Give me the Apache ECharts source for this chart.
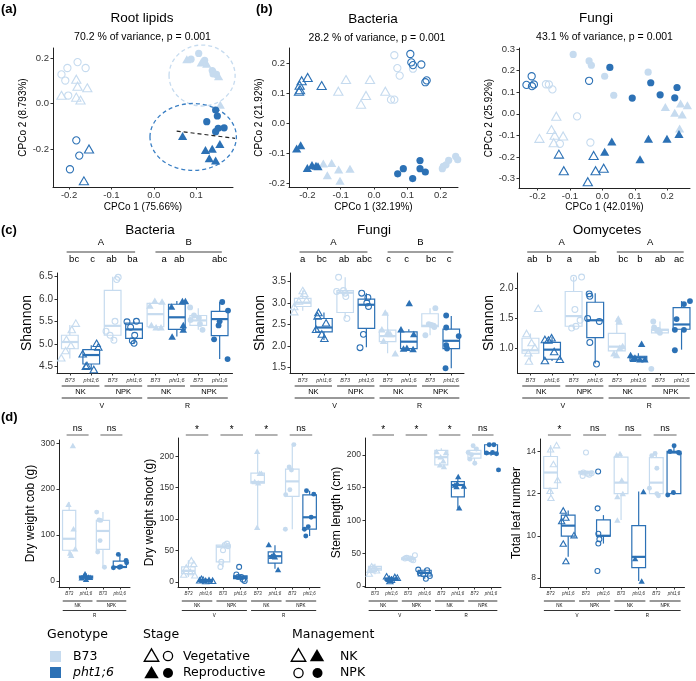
<!DOCTYPE html>
<html><head><meta charset="utf-8">
<script src="https://cdn.jsdelivr.net/npm/echarts/dist/echarts.min.js"></script>
<style>html,body{margin:0;padding:0;background:#fff}#c{width:696px;height:681px}</style>
</head><body><div id="c"></div>
<script>
// ================= DATA =================
// (a) Root lipids CPCoA
const lipidXTicks = [-0.2, -0.1, 0, 0.1];
const lipidYTicks = [-0.2, 0, 0.2];
const lipidB73VegNK  = [[-0.183,0.107],[-0.180,0.076],[-0.157,0.069],[-0.218,0.036],[-0.183,0.028],[-0.173,0.015]];
const lipidB73VegNPK = [[-0.180,0.182],[-0.204,0.156],[-0.161,0.156],[-0.218,0.128],[-0.209,0.101],[-0.202,0.035]];
const lipidPhtVegNK  = [[-0.153,-0.200],[-0.165,-0.340]];
const lipidPhtVegNPK = [[-0.183,-0.162],[-0.176,-0.229],[-0.198,-0.289]];
const lipidB73RepNK  = [[0.078,0.195],[0.112,0.18],[0.125,0.175],[0.145,0.135],[0.153,0.12],[0.157,-0.005]];
const lipidB73RepNPK = [[0.106,0.22],[0.088,0.195],[0.12,0.19],[0.138,0.145],[0.148,0.128],[0.140,0.13]];
const lipidPhtRepNK  = [[0.068,-0.143],[0.122,-0.204],[0.138,-0.199],[0.156,-0.178],[0.131,-0.241],[0.146,-0.250]];
const lipidPhtRepNPK = [[0.146,-0.029],[0.150,-0.055],[0.125,-0.080],[0.152,-0.109],[0.166,-0.107],[0.146,-0.124]];
// ellipses: [cx, cy, rx, ry, genotype]
const lipidEllipses = [[0.114,0.123,0.078,0.134,0],[0.093,-0.147,0.102,0.147,1]];
const lipidTrend = [[0.054,-0.121],[0.192,-0.153]];

// (b) Bacteria CPCoA
const bacXTicks = [-0.2,-0.1,0,0.1,0.2];
const bacYTicks = [-0.2,-0.1,0,0.1,0.2];
const bacB73VegNK  = [[-0.084,0.146],[-0.012,0.146],[-0.107,0.107],[-0.024,0.093],[-0.039,0.064],[0.034,0.107]];
const bacB73VegNPK = [[0.061,0.227],[0.070,0.184],[0.077,0.159],[0.117,0.182],[0.051,0.079],[0.061,0.079]];
const bacPhtVegNK  = [[-0.199,0.153],[-0.217,0.142],[-0.223,0.127],[-0.222,0.112],[-0.225,0.107],[-0.157,0.126]];
const bacPhtVegNPK = [[0.109,0.231],[0.112,0.203],[0.117,0.194],[0.142,0.196],[0.154,0.137],[0.158,0.143]];
const bacB73RepNK  = [[-0.152,-0.134],[-0.127,-0.132],[-0.140,-0.173],[-0.106,-0.154],[-0.102,-0.191],[-0.072,-0.151]];
const bacB73RepNPK = [[0.205,-0.151],[0.216,-0.138],[0.224,-0.123],[0.245,-0.110],[0.251,-0.121],[0.208,-0.143]];
const bacPhtRepNK  = [[-0.220,-0.073],[-0.232,-0.084],[-0.200,-0.149],[-0.186,-0.139],[-0.174,-0.141],[-0.168,-0.143]];
const bacPhtRepNPK = [[0.071,-0.168],[0.088,-0.151],[0.116,-0.184],[0.138,-0.124],[0.138,-0.151],[0.154,-0.162]];

// (b) Fungi CPCoA
const funXTicks = [-0.2,-0.1,0,0.1,0.2];
const funYTicks = [-0.3,-0.2,-0.1,0,0.1,0.2,0.3];
const funB73VegNK  = [[-0.142,-0.011],[-0.194,-0.114],[-0.157,-0.073],[-0.147,-0.099],[-0.121,-0.103],[-0.150,-0.134]];
const funB73VegNPK = [[-0.174,0.137],[-0.165,0.136],[-0.154,0.113],[-0.078,-0.012],[-0.131,-0.139],[-0.037,-0.133]];
const funPhtVegNK  = [[-0.134,-0.187],[-0.119,-0.264],[-0.027,-0.193],[-0.021,-0.264],[0.004,-0.252],[-0.045,-0.315]];
const funPhtVegNPK = [[-0.218,0.174],[-0.234,0.134],[-0.217,0.128],[-0.211,0.136],[-0.041,0.153]];
const funB73RepNK  = [[0.194,0.032],[0.223,0.005],[0.241,0.048],[0.246,-0.003],[0.262,0.040],[0.238,-0.068]];
const funB73RepNPK = [[-0.090,0.275],[-0.041,0.245],[-0.034,0.225],[0.007,0.174],[0.035,0.086],[0.141,0.193]];
const funPhtRepNK  = [[0.007,-0.176],[0.029,-0.128],[0.116,-0.211],[0.142,-0.116],[0.199,-0.116],[0.236,-0.094]];
const funPhtRepNPK = [[0.023,0.215],[0.149,0.144],[0.092,0.073],[0.178,0.088],[0.223,0.074],[0.230,0.122]];

// groups for box panels
const groupCats  = ["B73","pht1;6","B73","pht1;6","B73","pht1;6","B73","pht1;6"];
const groupGeno  = [0,1,0,1,0,1,0,1];
const groupMgmt  = ["NK","NK","NPK","NPK","NK","NK","NPK","NPK"];
const groupStage = ["V","V","V","V","R","R","R","R"];
const cobCats  = ["B73","pht1;6","B73","pht1;6"];
const cobGeno  = [0,1,0,1];
const cobMgmt  = ["NK","NK","NPK","NPK"];
const cobStage = ["R","R","R","R"];

// (c) Shannon — box stats [min, Q1, median, Q3, max]; points [jitter, value]
const shanBacTicks = [4.5,5,5.5,6,6.5];
const shanBacBox = [[4.67,4.89,5.04,5.19,5.42],[4.41,4.55,4.75,4.87,4.97],[5.06,5.19,5.40,6.19,6.49],[5.0,5.12,5.32,5.46,5.50],[5.34,5.38,5.66,5.90,5.95],[5.16,5.32,5.59,5.88,5.95],[5.31,5.41,5.52,5.63,5.79],[4.66,5.18,5.55,5.72,5.93]];
const shanBacPts = [
 [[0.28,5.46],[0.09,5.32],[-0.16,5.10],[0.05,4.97],[-0.4,4.69],[-0.2,4.85]],
 [[0.25,5.01],[0.33,4.93],[-0.4,4.78],[-0.25,4.50],[0.12,4.43],[-0.2,4.52]],
 [[0.26,6.48],[0.19,6.43],[-0.31,5.28],[0.06,5.08],[-0.12,5.19],[0.11,5.50]],
 [[-0.33,5.49],[0.11,5.50],[-0.16,5.37],[0.03,5.19],[-0.08,5.07],[0,5.01]],
 [[-0.03,5.96],[0.31,5.94],[-0.26,5.85],[0.03,5.37],[0.26,5.37],[-0.19,5.42]],
 [[0.26,5.95],[0.4,5.95],[-0.25,5.83],[0.3,5.42],[-0.22,5.16],[0.3,5.32]],
 [[-0.38,5.81],[0.03,5.58],[-0.36,5.53],[0.08,5.44],[0.2,5.31],[-0.2,5.63]],
 [[0.12,5.93],[0.39,5.74],[-0.05,5.41],[-0.26,5.10],[0.37,4.66],[0,5.5]]
];
const shanBacGroups = ["A","B"];
const shanBacLetters = ["bc","c","ab","ba","a","ab","abc"];
const shanFunTicks = [1.5,2,2.5,3,3.5];
const shanFunBox = [[2.82,2.92,3.01,3.11,3.29],[2.14,2.33,2.43,2.64,2.78],[2.64,2.78,3.24,3.29,3.60],[1.97,2.41,2.96,3.09,3.23],[1.83,2.10,2.23,2.37,2.78],[1.89,1.94,2.10,2.33,2.39],[2.25,2.45,2.47,2.75,2.88],[1.48,1.94,2.12,2.39,2.70]];
const shanFunPts = [
 [[0,3.29],[0.07,3.23],[-0.18,3.05],[-0.4,2.92],[-0.4,2.80],[0.18,3.07]],
 [[-0.26,2.78],[-0.3,2.70],[0.1,2.54],[-0.1,2.28],[0.02,2.18],[-0.37,2.39]],
 [[-0.31,3.60],[0,3.23],[-0.4,3.27],[0.03,3.15],[0.08,2.64],[-0.08,3.29]],
 [[-0.22,3.23],[0.07,3.13],[0.1,2.92],[-0.14,2.27],[-0.3,1.96],[0.02,3.0]],
 [[-0.11,2.78],[-0.27,2.39],[0.02,2.33],[0.13,2.28],[-0.19,2.12],[0.36,1.83]],
 [[0.02,3.00],[-0.37,2.39],[0.23,2.28],[-0.25,1.94],[0.2,1.93],[-0.09,1.96]],
 [[0.25,2.88],[-0.06,2.51],[-0.22,2.25],[0.17,2.47],[0.2,2.44],[0.06,2.49]],
 [[-0.24,2.71],[-0.24,2.43],[0.35,2.23],[-0.24,2.02],[-0.2,1.94],[-0.27,1.48]]
];
const shanFunGroups = ["A","B"];
const shanFunLetters = ["a","bc","ab","abc","c","c","bc","c"];
const shanOomTicks = [1,1.5,2];
const shanOomBox = [[0.78,0.92,0.97,1.17,1.25],[0.79,0.82,0.98,1.10,1.20],[1.32,1.37,1.54,1.95,2.19],[0.75,1.18,1.47,1.77,1.92],[0.92,0.96,1.03,1.25,1.50],[0.79,0.80,0.85,0.87,0.92],[1.23,1.26,1.31,1.32,1.45],[0.98,1.32,1.40,1.68,1.79]];
const shanOomPts = [
 [[0.36,1.67],[-0.18,1.25],[0.05,1.10],[0.2,1.02],[-0.1,0.93],[-0.07,0.79]],
 [[-0.33,1.15],[-0.02,1.18],[-0.17,1.14],[-0.33,0.80],[0.36,0.82],[0.1,0.95]],
 [[0,2.17],[0.37,2.19],[0.06,1.65],[-0.09,1.34],[0.11,1.37],[0.3,1.47]],
 [[-0.28,1.91],[-0.25,1.87],[0.19,1.45],[-0.35,1.50],[-0.25,1.10],[0.06,0.74]],
 [[0.07,1.50],[0.11,1.45],[0.27,1.04],[-0.13,0.92],[-0.01,0.89],[0.14,1.01]],
 [[0.15,1.08],[-0.36,0.89],[-0.16,0.85],[0.07,0.82],[0.3,0.82],[-0.24,0.83]],
 [[-0.31,1.45],[-0.27,1.35],[-0.08,1.31],[0,1.26],[-0.13,1.30],[-0.4,0.66]],
 [[0.11,1.74],[0.39,1.79],[-0.23,1.49],[-0.31,1.31],[0.11,1.31],[-0.31,0.97]]
];
const shanOomGroups = ["A","A"];
const shanOomLetters = ["ab","b","a","ab","bc","b","ab","ac"];

// (d) plant traits
const cobTicks = [0,100,200,300];
const cobBox = [[56,67,92,154,172],[3.6,6.5,9,11,17],[30,69,109,132,150],[27,29.5,30.5,43.5,58]];
const cobPts = [
 [[0.22,295],[-0.04,167],[0.26,114],[0.36,70],[0.06,61],[0.12,56]],
 [[-0.06,16],[-0.12,11],[0.14,9],[-0.26,7],[0,4],[0.24,8]],
 [[-0.37,150],[-0.23,133],[-0.13,132],[-0.17,88],[-0.31,63],[0.09,30]],
 [[-0.09,58],[0.37,45],[-0.03,30],[-0.38,29],[0.4,40],[0.05,31]]
];
const cobSig = ["ns","ns"];
const shootTicks = [0,50,100,150,200];
const shootBox = [[8,13.3,17.6,24,34.6],[0,1,2.7,3.7,5],[24,32,56,58.6,61],[1,5.3,8,9.6,12],[87,157,159,173,209],[21,30,41,48,58.6],[84,136,160,179.6,218.5],[73,84,102.9,138.6,145]];
const shootPts = [
 [[0.17,34.6],[0.31,29],[-0.12,23],[0.12,16],[-0.27,12],[0.37,10.6]],
 [[-0.25,5],[-0.15,3.7],[0.19,2.7],[0.4,2],[0,1.6],[-0.35,2.7]],
 [[0.23,61],[0.1,58.6],[-0.1,32],[-0.15,24],[0,50.6],[0.29,57]],
 [[-0.07,24],[-0.23,12],[0.06,8],[0.16,3.7],[0.25,1.6],[-0.13,8]],
 [[-0.03,208],[0.12,173],[-0.17,160],[0.22,173],[0.03,158],[-0.03,87]],
 [[-0.36,59.7],[0,40],[0.18,20],[-0.2,41],[-0.07,44]],
 [[0.09,218.5],[-0.18,182.8],[-0.38,138.6],[-0.14,146.6],[-0.4,84],[-0.05,178]],
 [[-0.18,145],[0.24,139.7],[0.09,102.9],[-0.3,84],[-0.22,73],[-0.08,88]]
];
const shootSig = ["*","*","*","ns"];
const stemTicks = [0,50,100,150,200];
const stemBox = [[17.9,24,26.5,30,34],[6,8.7,11,12,15],[38,40.3,41.8,42.9,47],[11,15.3,19.9,24,26.5],[182,184.7,196.4,206.6,210],[118,136,154,159,166.8],[187,194.9,201.5,206.6,213.8],[198.5,201.5,202.6,215.3,216.8]];
const stemPts = [
 [[-0.2,30],[-0.06,28],[-0.3,25],[0.1,24],[-0.34,19],[-0.1,26.5]],
 [[-0.3,14.8],[0.2,13.8],[0.35,12.8],[-0.14,11],[-0.1,7.7],[0,9.7]],
 [[0.41,47],[-0.09,42.9],[0.11,41.8],[0.21,40.3],[0.31,39.3],[-0.19,41.8]],
 [[-0.39,25],[0.15,24],[-0.29,19.9],[-0.09,17.9],[0.31,15.3],[0.07,11]],
 [[-0.28,205],[0.28,203.6],[0.12,191],[-0.08,184.7],[0.16,182],[-0.04,197]],
 [[0.02,166.8],[-0.04,156.6],[-0.18,154],[0.36,152.6],[0.08,119.4],[-0.08,151.5]],
 [[-0.08,213.8],[0.12,208.7],[-0.38,203.6],[-0.28,193.4],[0.02,187],[-0.18,200]],
 [[-0.11,215.3],[0.17,215.3],[-0.27,202.6],[0.09,203.6],[0.33,201.5],[0.45,177]]
];
const stemSig = ["*","*","*","ns"];
const leafTicks = [8,10,12,14];
const leafBox = [[11.86,12.25,13.0,13.76,14.3],[9.0,9.98,10.48,10.98,11.2],[12.84,12.94,13.0,13.05,13.1],[9.63,9.98,10.0,10.75,10.98],[10.75,12.0,12.52,13.73,13.9],[7.86,8.49,9.0,10.48,12.1],[11.9,12.0,12.52,13.71,13.9],[11.93,12.0,13.95,14.0,14.27]];
const leafPts = [
 [[0.34,14.3],[0,14.1],[0.16,13.4],[0.4,12.65],[-0.03,12.14],[0.02,11.8]],
 [[-0.28,11.2],[-0.13,10.87],[-0.37,10.7],[0.33,10.03],[-0.28,9.63],[-0.13,8.8]],
 [[0.01,13.95],[-0.18,12.84],[0.09,12.94],[0.33,12.97],[-0.14,13.0],[0.2,12.9]],
 [[-0.33,11.3],[-0.29,10.1],[-0.23,9.84],[-0.29,9.63],[-0.34,8.33],[-0.3,13.05]],
 [[-0.06,13.9],[-0.25,13.84],[-0.21,11.86],[0.1,12.0],[-0.21,10.75],[0.04,12.65]],
 [[0.27,12.1],[-0.2,8.92],[0.17,7.86]],
 [[-0.07,13.9],[-0.26,13.8],[0.03,13.2],[-0.39,12.25],[0.03,12.0],[0.12,11.9]],
 [[0.01,14.27],[-0.22,14.0],[0.31,13.92],[-0.35,11.93],[-0.03,12.05],[0.26,13.95]]
];
const leafSig = ["*","ns","ns","ns"];

// ================= STYLE / LAYOUT =================
const LIGHT = '#c6dbef', DARK = '#2c71b5';
const FONT = '"Liberation Sans", Arial, Helvetica, sans-serif';
const LFONT = '"DejaVu Sans", Verdana, sans-serif';
const TXT = '#333';

const chart = echarts.init(document.getElementById('c'), null, {renderer:'canvas', width:696, height:681});
const grids = [], xAxes = [], yAxes = [], series = [];

function ptStyle(geno, filled) {
  const c = geno ? DARK : LIGHT;
  return filled ? {color:c, borderColor:c, borderWidth:0, opacity:1}
                : {color:'rgba(255,255,255,0)', borderColor:c, borderWidth:1.1, opacity:1};
}
function addScatter(xi, yi, pts, geno, mgmt, stage, size, xOff) {
  const tri = mgmt === 'NK';
  series.push({type:'scatter', xAxisIndex:xi, yAxisIndex:yi, silent:true, animation:false, z:4,
    symbol: tri ? 'triangle' : 'circle',
    symbolSize: tri ? [size*1.15, size*1.0] : size*0.9,
    data: pts.map(p => [(xOff||0) + p[0], p[1]]),
    itemStyle: ptStyle(geno, stage === 'R')});
}
function valAxis(gi, min, max, ticks, dec, name, gap, nameSize, labelSize, isX) {
  return {type:'value', gridIndex:gi, min, max,
    axisLine:{show:true, onZero:false, lineStyle:{color:'#222', width:1}},
    axisTick:{show:true, length:2.5, customValues:ticks, lineStyle:{color:'#333', width:1}},
    axisLabel:{show:true, customValues:ticks, fontSize:labelSize, color:TXT, fontFamily:FONT, margin: isX ? 3 : 4,
      formatter: v => (dec >= 0 ? Number(v).toFixed(dec) : String(v))},
    splitLine:{show:false},
    name, nameLocation:'middle', nameGap:gap, nameRotate: isX ? 0 : 90,
    nameTextStyle:{fontSize:nameSize, color:'#000', fontFamily:FONT}};
}
function addGrid(r) { grids.push(Object.assign({show:false, containLabel:false, outerBoundsMode:'none'}, r)); return grids.length - 1; }

// ---- CPCoA panels
function pcoaPanel(rect, xr, yr, xt, yt, xName, yName, groups, xGap, yGap, size) {
  const gi = addGrid(rect);
  const xi = xAxes.length; xAxes.push(valAxis(gi, xr[0], xr[1], xt, 1, xName, xGap, 10, 9.5, true));
  const yi = yAxes.length; yAxes.push(valAxis(gi, yr[0], yr[1], yt, 1, yName, yGap, 10, 9.5, false));
  groups.forEach(g => addScatter(xi, yi, g[0], g[1], g[2], g[3], size, 0));
  return {gi, xi, yi};
}
const pa = pcoaPanel({left:53, top:48, width:180, height:139}, [-0.238,0.187], [-0.367,0.244], lipidXTicks, lipidYTicks,
  'CPCo 1 (75.66%)', 'CPCo 2 (8.793%)', [
    [lipidB73VegNK,0,'NK','V'],[lipidB73VegNPK,0,'NPK','V'],[lipidPhtVegNK,1,'NK','V'],[lipidPhtVegNPK,1,'NPK','V'],
    [lipidB73RepNK,0,'NK','R'],[lipidB73RepNPK,0,'NPK','R'],[lipidPhtRepNK,1,'NK','R'],[lipidPhtRepNPK,1,'NPK','R']], 15, 19, 8);
series.push({type:'custom', xAxisIndex:pa.xi, yAxisIndex:pa.yi, silent:true, z:3, clip:false, data: lipidEllipses,
  renderItem: (p, api) => {
    const c = api.coord([api.value(0), api.value(1)]);
    const s = api.size([api.value(2), api.value(3)]);
    return {type:'ellipse', shape:{cx:c[0], cy:c[1], rx:s[0], ry:s[1]},
      style:{fill:'none', stroke: api.value(4) ? '#3a7fc4' : LIGHT, lineWidth:1.3, lineDash:[4,3]}};
  }});
series.push({type:'line', xAxisIndex:pa.xi, yAxisIndex:pa.yi, silent:true, z:5, symbol:'none', data: lipidTrend,
  lineStyle:{color:'#222', width:1.2, type:[4,3]}, animation:false});

pcoaPanel({left:289, top:48, width:169, height:139}, [-0.255,0.252], [-0.212,0.251], bacXTicks, bacYTicks,
  'CPCo 1 (32.19%)', 'CPCo 2 (21.92%)', [
    [bacB73VegNK,0,'NK','V'],[bacB73VegNPK,0,'NPK','V'],[bacPhtVegNK,1,'NK','V'],[bacPhtVegNPK,1,'NPK','V'],
    [bacB73RepNK,0,'NK','R'],[bacB73RepNPK,0,'NPK','R'],[bacPhtRepNK,1,'NK','R'],[bacPhtRepNPK,1,'NPK','R']], 15, 20, 8);
pcoaPanel({left:519, top:48, width:171, height:140}, [-0.257,0.27], [-0.344,0.305], funXTicks, funYTicks,
  'CPCo 1 (42.01%)', 'CPCo 2 (25.92%)', [
    [funB73VegNK,0,'NK','V'],[funB73VegNPK,0,'NPK','V'],[funPhtVegNK,1,'NK','V'],[funPhtVegNPK,1,'NPK','V'],
    [funB73RepNK,0,'NK','R'],[funB73RepNPK,0,'NPK','R'],[funPhtRepNK,1,'NK','R'],[funPhtRepNPK,1,'NPK','R']], 14, 20, 8);

// ---- box panels
function renderBox(p, api) {
  const x = api.value(0);
  const lo = api.coord([x, api.value(1)]), q1 = api.coord([x, api.value(2)]), md = api.coord([x, api.value(3)]);
  const q3 = api.coord([x, api.value(4)]), hi = api.coord([x, api.value(5)]);
  const w = api.size([0.78, 0])[0];
  const col = api.value(6) ? DARK : LIGHT;
  const cx = md[0];
  return {type:'group', children:[
    {type:'line', shape:{x1:cx, y1:hi[1], x2:cx, y2:q3[1]}, style:{stroke:col, lineWidth:1.2}},
    {type:'line', shape:{x1:cx, y1:q1[1], x2:cx, y2:lo[1]}, style:{stroke:col, lineWidth:1.2}},
    {type:'rect', shape:{x:cx - w/2, y:q3[1], width:w, height:q1[1] - q3[1]}, style:{fill:'none', stroke:col, lineWidth:1.2}},
    {type:'line', shape:{x1:cx - w/2, y1:md[1], x2:cx + w/2, y2:md[1]}, style:{stroke:col, lineWidth:2.2}}
  ]};
}
function boxPanel(rect, n, cats, geno, mgmt, stage, box, pts, yr, yt, dec, yName, yGap, yNameSize, tickSize, catSize, ptSize) {
  const gi = addGrid(rect);
  const xi = xAxes.length;
  const catVals = cats.map((c, i) => i + 1);
  xAxes.push({type:'value', gridIndex:gi, min:0.4, max:n + 0.6,
    axisLine:{show:true, onZero:false, lineStyle:{color:'#222', width:1}},
    axisTick:{show:true, length:2.5, customValues:catVals, lineStyle:{color:'#333'}},
    axisLabel:{show:true, customValues:catVals, fontSize:catSize, fontStyle:'italic', color:TXT, fontFamily:FONT, margin:4,
      formatter: v => cats[Math.round(v) - 1]},
    splitLine:{show:false}});
  const yi = yAxes.length;
  yAxes.push(valAxis(gi, yr[0], yr[1], yt, dec, yName, yGap, yNameSize, tickSize, false));
  series.push({type:'custom', xAxisIndex:xi, yAxisIndex:yi, silent:true, z:2, clip:false,
    data: box.map((b, i) => [i + 1, b[0], b[1], b[2], b[3], b[4], geno[i]]), renderItem: renderBox});
  pts.forEach((ps, i) => addScatter(xi, yi, ps, geno[i], mgmt[i], stage[i], ptSize, i + 1));
  return {gi, rect, n, cats, mgmt, stage};
}
const cB = boxPanel({left:57, top:273, width:175.5, height:100}, 8, groupCats, groupGeno, groupMgmt, groupStage, shanBacBox, shanBacPts, [4.35,6.576], shanBacTicks, 1, 'Shannon', 23, 14, 10, 5.5, 6.5);
const cF = boxPanel({left:290, top:273, width:174, height:100}, 8, groupCats, groupGeno, groupMgmt, groupStage, shanFunBox, shanFunPts, [1.37,3.70], shanFunTicks, 1, 'Shannon', 23, 14, 10, 5.5, 6.5);
const cO = boxPanel({left:517.5, top:273, width:177, height:100}, 8, groupCats, groupGeno, groupMgmt, groupStage, shanOomBox, shanOomPts, [0.591,2.258], shanOomTicks, 1, 'Shannon', 19, 14, 10, 5.5, 6.5);
const dC = boxPanel({left:59, top:440, width:71, height:147}, 4, cobCats, cobGeno, cobMgmt, cobStage, cobBox, cobPts, [-13,307], cobTicks, -1, 'Dry weight cob (g)', 20, 12, 8.5, 4.5, 5.5);
const dS = boxPanel({left:178, top:438, width:142, height:149}, 8, groupCats, groupGeno, groupMgmt, groupStage, shootBox, shootPts, [-8,229], shootTicks, -1, 'Dry weight shoot (g)', 19, 12, 8.5, 4.5, 5.5);
const dT = boxPanel({left:365, top:438, width:136, height:149}, 8, groupCats, groupGeno, groupMgmt, groupStage, stemBox, stemPts, [-1.5,225.6], stemTicks, -1, 'Stem length (cm)', 16, 12, 8.5, 4.5, 5.5);
const dL = boxPanel({left:540, top:439, width:144.5, height:148}, 8, groupCats, groupGeno, groupMgmt, groupStage, leafBox, leafPts, [7.57,14.59], leafTicks, -1, 'Total leaf number', 14, 12, 8.5, 4.5, 5.5);

chart.setOption({animation:false, backgroundColor:'#fff', grid:grids, xAxis:xAxes, yAxis:yAxes, series});

// ================= OVERLAY TEXT / ANNOTATIONS =================
const G = [];
function txt(x, y, text, size, o) {
  o = o || {};
  const align = o.align || 'center';
  G.push({type:'text', x, y, silent:true, z:10, style:{text, fontSize:size, fontFamily:o.font || FONT, fill:o.fill || '#000',
    fontWeight:o.weight || 'normal', fontStyle:o.style || 'normal', align, textAlign:align, verticalAlign:'middle', textVerticalAlign:'middle'}});
}
function ln(x1, y1, x2, y2, stroke, w) { G.push({type:'line', silent:true, z:10, shape:{x1, y1, x2, y2}, style:{stroke, lineWidth:w}}); }
function px(gi, x) { return chart.convertToPixel({gridIndex:gi}, [x, 0])[0]; }

// titles
txt(1, 9, '(a)', 13, {align:'left', weight:'bold'});
txt(256, 9, '(b)', 13, {align:'left', weight:'bold'});
txt(1, 230, '(c)', 13, {align:'left', weight:'bold'});
txt(1, 417, '(d)', 13, {align:'left', weight:'bold'});
txt(142, 18, 'Root lipids', 13.5);
txt(142.5, 37, '70.2 % of variance, p = 0.001', 10.5);
txt(373, 19, 'Bacteria', 13.5);
txt(377, 38, '28.2 % of variance, p = 0.001', 10.5);
txt(596, 18, 'Fungi', 13.5);
txt(604.5, 37, '43.1 % of variance, p = 0.001', 10.5);
txt(150, 230, 'Bacteria', 13.5);
txt(374, 230, 'Fungi', 13.5);
txt(607, 230, 'Oomycetes', 13.5);

// (c) significance letters and grouping
const letterPos = {
  bac: [1.2,2.06,2.95,3.93,5.41,6.11,8.0],
  fun: [1.0,1.9,2.95,3.9,5.05,5.9,7.05,7.9],
  oom: [1.08,1.87,2.8,3.95,5.3,6.07,7.0,7.88]
};
function topAnno(pan, groups, letters, pos) {
  const t = pan.rect.top;
  [[0.85,4.05],[5.0,8.1]].forEach((sp, k) => {
    const x1 = px(pan.gi, sp[0]), x2 = px(pan.gi, sp[1]);
    ln(x1, t - 21, x2, t - 21, '#a0a0a0', 2);
    txt((x1 + x2) / 2, t - 31, groups[k], 9.5);
  });
  letters.forEach((l, i) => txt(px(pan.gi, pos[i]), t - 13.5, l, 9.5));
}
topAnno(cB, shanBacGroups, shanBacLetters, letterPos.bac);
topAnno(cF, shanFunGroups, shanFunLetters, letterPos.fun);
topAnno(cO, shanOomGroups, shanOomLetters, letterPos.oom);

// nested x labels
function bottomAnno(pan, off, fs1, fs2) {
  const b = pan.rect.top + pan.rect.height;
  for (let i = 0; i < pan.n; i += 2) {
    const x1 = px(pan.gi, i + 1 - 0.38), x2 = px(pan.gi, i + 2 + 0.38);
    ln(x1, b + off[0], x2, b + off[0], '#333', 1);
    txt((x1 + x2) / 2, b + off[1], pan.mgmt[i], fs1);
  }
  for (let i = 0; i < pan.n; i += 4) {
    const x1 = px(pan.gi, i + 1 - 0.38), x2 = px(pan.gi, i + 4 + 0.38);
    ln(x1, b + off[2], x2, b + off[2], '#333', 1);
    txt((x1 + x2) / 2, b + off[3], pan.stage[i], fs2);
  }
}
[cB, cF, cO].forEach(p => bottomAnno(p, [13, 18.5, 25, 33], 7.5, 7));
[dC, dS, dT, dL].forEach(p => bottomAnno(p, [14, 18.5, 23.5, 29], 4.5, 4.5));

// (d) significance
function sigAnno(pan, sig) {
  sig.forEach((s, k) => {
    const x1 = px(pan.gi, 2 * k + 1 - 0.15), x2 = px(pan.gi, 2 * k + 2 + 0.15);
    ln(x1, 435, x2, 435, '#999', 1.5);
    txt((x1 + x2) / 2, s === '*' ? 430 : 428.5, s, s === '*' ? 10 : 9);
  });
}
sigAnno(dC, cobSig); sigAnno(dS, shootSig); sigAnno(dT, stemSig); sigAnno(dL, leafSig);

// legend
function tri(cx, cy, s, filled) {
  G.push({type:'polygon', silent:true, z:10, shape:{points:[[cx, cy - s*0.55],[cx - s*0.6, cy + s*0.48],[cx + s*0.6, cy + s*0.48]]},
    style: filled ? {fill:'#000'} : {fill:'none', stroke:'#000', lineWidth:1.4}});
}
function circ(cx, cy, r, filled) {
  G.push({type:'circle', silent:true, z:10, shape:{cx, cy, r}, style: filled ? {fill:'#000'} : {fill:'none', stroke:'#000', lineWidth:1.3}});
}
txt(47, 635, 'Genotype', 12.5, {align:'left', font:LFONT});
G.push({type:'rect', silent:true, shape:{x:50, y:651, width:11, height:11}, style:{fill:LIGHT}});
G.push({type:'rect', silent:true, shape:{x:50, y:667, width:11, height:11}, style:{fill:DARK}});
txt(73, 657, 'B73', 12.5, {align:'left', font:LFONT});
txt(73, 673, 'pht1;6', 12.5, {align:'left', font:LFONT, style:'italic'});
txt(143, 635, 'Stage', 12.5, {align:'left', font:LFONT});
tri(151.5, 655.5, 12, false); circ(168, 656, 4.6, false);
txt(183, 657, 'Vegetative', 12.5, {align:'left', font:LFONT});
tri(151.5, 672.5, 12, true); circ(168, 673, 5, true);
txt(183, 673, 'Reproductive', 12.5, {align:'left', font:LFONT});
txt(292, 635, 'Management', 12.5, {align:'left', font:LFONT});
tri(298.5, 655.5, 12, false); tri(317, 655.5, 12, true);
txt(340, 657, 'NK', 12.5, {align:'left', font:LFONT});
circ(298.5, 673, 4.6, false); circ(317.5, 673, 5, true);
txt(340, 673, 'NPK', 12.5, {align:'left', font:LFONT});

chart.setOption({graphic: G});
</script></body></html>
